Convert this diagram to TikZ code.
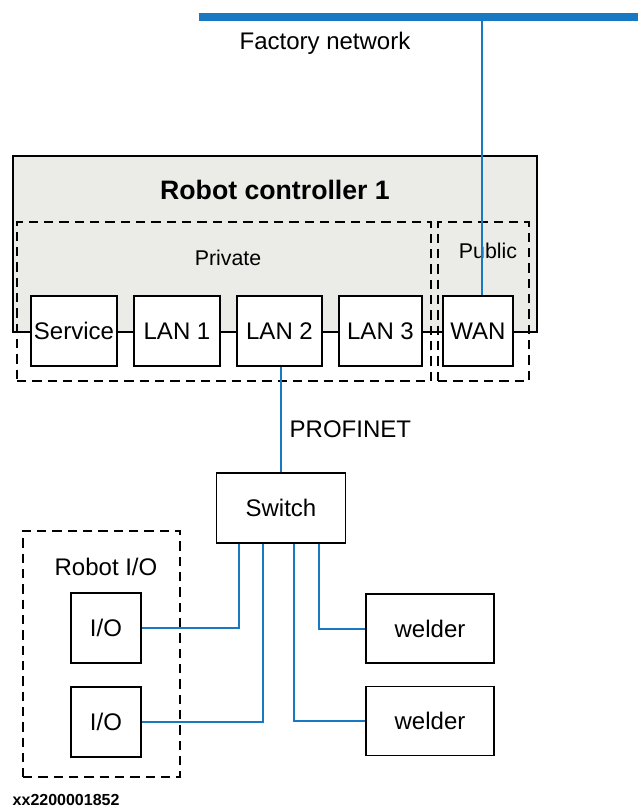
\documentclass[tikz,border=0pt]{standalone}
\usepackage{fontspec}
\setmainfont{Liberation Sans}
\usepackage{tikz}
\newlength{\px}
\setlength{\px}{0.75pt}
\definecolor{netblue}{RGB}{24,121,194}
\definecolor{ctrlgray}{RGB}{235,235,231}

\begin{document}
\begin{tikzpicture}[x=0.75pt, y=-0.75pt,
  box/.style={draw, line width=1.4pt, fill=white, minimum height=70\px, inner sep=0pt, font=\fontsize{18}{21}\selectfont},
  zone/.style={draw, line width=1.6pt, dash pattern=on 7pt off 4.5pt, inner sep=0pt},
  lbl/.style={font=\fontsize{18}{21}\selectfont},
  small lbl/.style={font=\fontsize{16}{19}\selectfont},
  link/.style={draw=netblue, line width=1.5pt}]
  \useasboundingbox (0,0) rectangle (638,812);

  \coordinate (busL) at (199,17);
  \coordinate (busR) at (638,17);
  \coordinate (tap) at (482,17);
  \draw[netblue, line width=6pt] (busL) -- (busR);
  \node[lbl] (factory) at (325,43) {Factory network};

  \node[draw, line width=1.4pt, fill=ctrlgray, minimum width=524\px, minimum height=176\px, inner sep=0pt] (ctrl) at (275,244) {};
  \node[font=\fontsize{20}{24}\selectfont\bfseries] (title) at (275,190) {Robot controller 1};
  \node[zone, minimum width=414\px, minimum height=159\px] (private) at (224,301.5) {};
  \node[zone, minimum width=91\px, minimum height=159\px] (public) at (483.5,301.5) {};
  \node[small lbl] (privlbl) at (228,258) {Private};
  \node[small lbl] (publbl) at (488,251) {Public};

  \node[box, minimum width=86\px] (service) at (74,331) {Service};
  \node[box, minimum width=86\px] (lan1) at (177,331) {LAN 1};
  \node[box, minimum width=85\px] (lan2) at (279.5,331) {LAN 2};
  \node[box, minimum width=83\px] (lan3) at (380.5,331) {LAN 3};
  \node[box, minimum width=70\px] (wan) at (478,331) {WAN};

  \node[box, minimum width=129\px] (switch) at (281,508) {Switch};
  \node[lbl, anchor=west] (profinet) at (285,429) {PROFINET};

  \node[zone, minimum width=157\px, minimum height=246\px] (robotio) at (101.5,654) {};
  \node[lbl] (iolbl) at (106,567) {Robot I/O};
  \node[box, minimum width=70\px] (io1) at (106,628) {I/O};
  \node[box, minimum width=70\px] (io2) at (106,722) {I/O};

  \node[box, minimum width=128\px, minimum height=69\px] (welder1) at (430,628.5) {welder};
  \node[box, minimum width=128\px, minimum height=69\px] (welder2) at (430,721) {welder};

  \draw[link] (tap) -- (tap |- wan.north);
  \draw[link] (switch.north) -- (switch.north |- lan2.south);
  \draw[link] ([xshift=-42\px]switch.south) |- (io1.east);
  \draw[link] ([xshift=-18\px]switch.south) |- (io2.east);
  \draw[link] ([xshift=13\px]switch.south) |- (welder2.west);
  \draw[link] ([xshift=38\px]switch.south) |- (welder1.west);

  \node[anchor=west, font=\fontsize{12}{14}\selectfont\bfseries] (code) at (8,800) {xx2200001852};
\end{tikzpicture}
\end{document}
